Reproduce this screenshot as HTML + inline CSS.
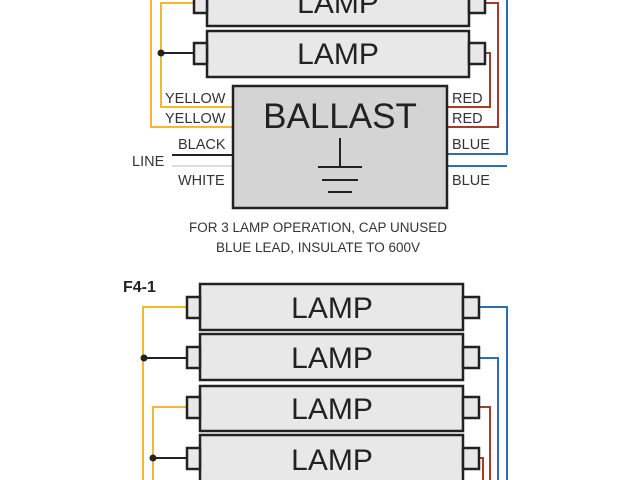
<!DOCTYPE html>
<html><head><style>html,body{margin:0;padding:0;background:#fff}svg{display:block}</style></head><body>
<svg width="640" height="480" viewBox="0 0 640 480" xmlns="http://www.w3.org/2000/svg" font-family="Liberation Sans, sans-serif">
<g fill="none" stroke-width="2">
<!-- top yellow -->
<polyline points="151,-5 151,127 233,127" stroke="#f5b731"/>
<polyline points="194,3 161,3 161,107 233,107" stroke="#f5b731"/>
<line x1="161" y1="53" x2="194" y2="53" stroke="#222"/>
<!-- top red/blue -->
<polyline points="447,107 490,107 490,53 485,53" stroke="#a83a2a"/>
<polyline points="447,127 498,127 498,3 485,3" stroke="#a83a2a"/>
<polyline points="447,154 507,154 507,-5" stroke="#2f6db0"/>
<line x1="447" y1="166" x2="507" y2="166" stroke="#2f6db0"/>
<line x1="172" y1="155" x2="233" y2="155" stroke="#222"/>
<line x1="172" y1="166" x2="233" y2="166" stroke="#ddd"/>
<!-- bottom wires -->
<polyline points="187,307 143,307 143,485" stroke="#f5b731"/>
<polyline points="187,407 153,407 153,485" stroke="#f5b731"/>
<line x1="144" y1="358" x2="187" y2="358" stroke="#222"/>
<line x1="153" y1="458" x2="187" y2="458" stroke="#222"/>
<polyline points="479,307 507,307 507,485" stroke="#2f6db0"/>
<polyline points="479,358 498,358 498,485" stroke="#2f6db0"/>
<polyline points="479,407 490,407 490,485" stroke="#a83a2a"/>
<polyline points="479,458 483,458 483,485" stroke="#a83a2a"/>
</g>
<circle cx="161" cy="53" r="3.5" fill="#222"/>
<circle cx="144" cy="358" r="3.5" fill="#222"/>
<circle cx="153" cy="458" r="3.5" fill="#222"/>
<g fill="#e8e8e8" stroke="#222" stroke-width="2.5">
<rect x="207" y="-20" width="262" height="46"/>
<rect x="194" y="-7" width="13" height="20"/><rect x="469" y="-7" width="16" height="20"/>
<rect x="207" y="31" width="262" height="46"/>
<rect x="194" y="43" width="13" height="21"/><rect x="469" y="43" width="16" height="21"/>
<rect x="200" y="284" width="263" height="46"/>
<rect x="187" y="297" width="13" height="21"/><rect x="463" y="297" width="16" height="21"/>
<rect x="200" y="334" width="263" height="46"/>
<rect x="187" y="347" width="13" height="21"/><rect x="463" y="347" width="16" height="21"/>
<rect x="200" y="386" width="263" height="45"/>
<rect x="187" y="397" width="13" height="21"/><rect x="463" y="397" width="16" height="21"/>
<rect x="200" y="435" width="263" height="50"/>
<rect x="187" y="448" width="13" height="21"/><rect x="463" y="448" width="16" height="21"/>
<rect x="233" y="86" width="214" height="122" fill="#d4d4d4"/>
</g>
<g stroke="#222" stroke-width="2">
<line x1="340" y1="138" x2="340" y2="167"/>
<line x1="318" y1="167" x2="362" y2="167"/>
<line x1="322" y1="180" x2="358" y2="180"/>
<line x1="328" y1="192" x2="352" y2="192"/>
</g>
<g fill="#222" font-size="30" text-anchor="middle">
<text x="338" y="13">LAMP</text>
<text x="338" y="64">LAMP</text>
<text x="332" y="318">LAMP</text>
<text x="332" y="368">LAMP</text>
<text x="332" y="419">LAMP</text>
<text x="332" y="470">LAMP</text>
<text x="340" y="128" font-size="35">BALLAST</text>
</g>
<g fill="#333" font-size="14.5">
<text x="165" y="103">YELLOW</text>
<text x="165" y="123">YELLOW</text>
<text x="178" y="149">BLACK</text>
<text x="132" y="166">LINE</text>
<text x="178" y="185">WHITE</text>
<text x="452" y="103">RED</text>
<text x="452" y="123">RED</text>
<text x="452" y="149">BLUE</text>
<text x="452" y="185">BLUE</text>
</g>
<g fill="#333" font-size="13.5" text-anchor="middle">
<text x="318" y="232">FOR 3 LAMP OPERATION, CAP UNUSED</text>
<text x="318" y="252">BLUE LEAD, INSULATE TO 600V</text>
</g>
<text x="123" y="292" font-size="16" font-weight="bold" fill="#222">F4-1</text>
</svg>
</body></html>
